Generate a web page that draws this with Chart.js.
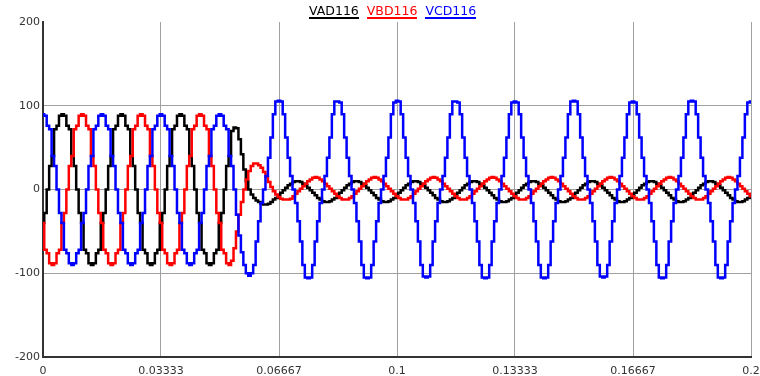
<!DOCTYPE html>
<html>
<head>
<meta charset="utf-8">
<script src="https://cdn.jsdelivr.net/npm/chart.js@4.4.1/dist/chart.umd.min.js"></script>
<style>
  html, body { margin: 0; padding: 0; background: #fff; }
  #wrap { position: relative; width: 760px; height: 376px; }
  #legend { position: absolute; top: 4px; left: 309px; display: flex; gap: 8px;
            font-family: 'DejaVu Sans', sans-serif; font-size: 12.5px; }
  #legend span { display: inline-block; line-height: 13px; padding-bottom: 0; }
</style>
</head>
<body>
<div id="wrap">
  <canvas id="c" width="760" height="376"></canvas>
  <div id="legend"></div>
</div>
<script>
// ---- Data ----
// sampling interval of the plotted record (24 samples per 60 Hz cycle)
const T_STEP = 1 / 1440;

const seriesNames = ['VAD116', 'VBD116', 'VCD116'];
const seriesColors = ['#000000', '#ff0000', '#0000ff'];

const xTickValues = [0, 0.033333, 0.066667, 0.1, 0.133333, 0.166667, 0.2];
const xTickLabels = ['0', '0.03333', '0.06667', '0.1', '0.13333', '0.16667', '0.2'];
const yTickValues = [-200, -100, 0, 100, 200];

// VAD116 (black)
const vad = [
  -40,-28,0,28,40,72,76,88,90,88,76,72,40,28,0,-28,-40,-72,-76,-88,-90,-88,-76,-72,
  -40,-28,0,28,40,72,76,88,90,88,76,72,40,28,0,-28,-40,-72,-76,-88,-90,-88,-76,-72,
  -40,-28,0,28,40,72,76,88,90,88,76,72,40,28,0,-28,-40,-72,-76,-88,-90,-88,-76,-72,
  -40,-28,0,28,40,70,74,73,60,42,24,10,0,-6,-10,-13,-15,-17,-18,-18,-17,-15,-12,-10,
  -7,-4,-1,2,5,7,9,10,10,9,7,5,2,-1,-4,-7,-10,-12,-14,-15,-15,-14,-12,-10,
  -7,-4,-1,2,5,7,9,10,10,9,7,5,2,-1,-4,-7,-10,-12,-14,-15,-15,-14,-12,-10,
  -7,-4,-1,2,5,7,9,10,10,9,7,5,2,-1,-4,-7,-10,-12,-14,-15,-15,-14,-12,-10,
  -7,-4,-1,2,5,7,9,10,10,9,7,5,2,-1,-4,-7,-10,-12,-14,-15,-15,-14,-12,-10,
  -7,-4,-1,2,5,7,9,10,10,9,7,5,2,-1,-4,-7,-10,-12,-14,-15,-15,-14,-12,-10,
  -7,-4,-1,2,5,7,9,10,10,9,7,5,2,-1,-4,-7,-10,-12,-14,-15,-15,-14,-12,-10,
  -7,-4,-1,2,5,7,9,10,10,9,7,5,2,-1,-4,-7,-10,-12,-14,-15,-15,-14,-12,-10,
  -7,-4,-1,2,5,7,9,10,10,9,7,5,2,-1,-4,-7,-10,-12,-14,-15,-15,-14,-12,-10,
  -7
];

// VBD116 (red)
const vbd = [
  -40,-72,-76,-88,-90,-88,-76,-72,-40,-28,0,28,40,72,76,88,90,88,76,72,40,28,0,-28,
  -40,-72,-76,-88,-90,-88,-76,-72,-40,-28,0,28,40,72,76,88,90,88,76,72,40,28,0,-28,
  -40,-72,-76,-88,-90,-88,-76,-72,-40,-28,0,28,40,72,76,88,90,88,76,72,40,28,0,-28,
  -40,-72,-76,-88,-90,-85,-70,-50,-30,-15,0,12,22,28,31,31,29,26,21,15,9,3,-2,-6,
  -9,-11,-12,-12,-12,-11,-8,-5,-2,1,4,7,10,12,14,15,14,12,10,7,4,1,-2,-5,
  -8,-10,-12,-12,-12,-10,-8,-5,-2,1,4,7,10,12,14,15,14,12,10,7,4,1,-2,-5,
  -8,-10,-12,-12,-12,-10,-8,-5,-2,1,4,7,10,12,14,15,14,12,10,7,4,1,-2,-5,
  -8,-10,-12,-12,-12,-10,-8,-5,-2,1,4,7,10,12,14,15,14,12,10,7,4,1,-2,-5,
  -8,-10,-12,-12,-12,-10,-8,-5,-2,1,4,7,10,12,14,15,14,12,10,7,4,1,-2,-5,
  -8,-10,-12,-12,-12,-10,-8,-5,-2,1,4,7,10,12,14,15,14,12,10,7,4,1,-2,-5,
  -8,-10,-12,-12,-12,-10,-8,-5,-2,1,4,7,10,12,14,15,14,12,10,7,4,1,-2,-5,
  -8,-10,-12,-12,-12,-10,-8,-5,-2,1,4,7,10,12,14,15,14,12,10,7,4,1,-2,-5,
  -8
];

// VCD116 (blue)
const vcd = [
  90,88,76,72,40,28,0,-28,-40,-72,-76,-88,-90,-88,-76,-72,-40,-28,0,28,40,72,76,88,
  90,88,76,72,40,28,0,-28,-40,-72,-76,-88,-90,-88,-76,-72,-40,-28,0,28,40,72,76,88,
  90,88,76,72,40,28,0,-28,-40,-72,-76,-88,-90,-88,-76,-72,-40,-28,0,28,40,72,76,88,
  90,88,76,72,40,28,0,-30,-55,-75,-90,-100,-103,-100,-90,-62,-38,-16,0,16,38,62,90,105,
  106,105,90,62,38,16,0,-16,-38,-62,-90,-105,-106,-105,-90,-62,-38,-16,0,16,38,62,90,105,
  105,104,90,62,38,16,0,-16,-38,-62,-90,-105,-106,-105,-90,-62,-38,-16,0,16,38,62,90,104,
  106,105,90,62,38,16,0,-16,-38,-62,-90,-104,-105,-104,-90,-62,-38,-16,0,16,38,62,90,105,
  105,104,90,62,38,16,0,-16,-38,-62,-90,-105,-106,-105,-90,-62,-38,-16,0,16,38,62,90,104,
  105,104,90,62,38,16,0,-16,-38,-62,-90,-105,-106,-105,-90,-62,-38,-16,0,16,38,62,90,105,
  106,105,90,62,38,16,0,-16,-38,-62,-90,-104,-105,-104,-90,-62,-38,-16,0,16,38,62,90,104,
  105,104,90,62,38,16,0,-16,-38,-62,-90,-105,-106,-105,-90,-62,-38,-16,0,16,38,62,90,105,
  106,105,90,62,38,16,0,-16,-38,-62,-90,-105,-106,-105,-90,-62,-38,-16,0,16,38,62,90,104,
  105
];

// ---- Chart ----
const seriesValues = [vad, vbd, vcd];
const drawOrder = [2, 1, 0]; // blue on top
const toPoints = arr => arr.map((v, i) => ({ x: i * T_STEP, y: v }));

const datasets = seriesNames.map((name, k) => ({
  label: name,
  data: toPoints(seriesValues[k]),
  borderColor: seriesColors[k],
  backgroundColor: seriesColors[k],
  borderWidth: 2.5,
  pointRadius: 0,
  stepped: 'middle',
  fill: false,
  order: drawOrder[k]
}));

const tickFont = { family: "'DejaVu Sans', sans-serif", size: 11 };
const gridColor = '#a0a0a0';
const axisColor = '#333333';

new Chart(document.getElementById('c'), {
  type: 'line',
  data: { datasets },
  options: {
    responsive: false,
    animation: false,
    events: [],
    layout: { padding: { top: 22, right: 9, left: 0, bottom: 0 } },
    plugins: { legend: { display: false }, tooltip: { enabled: false } },
    scales: {
      x: {
        type: 'linear',
        min: 0, max: 0.2,
        afterBuildTicks: s => { s.ticks = xTickValues.map(v => ({ value: v })); },
        afterFit: s => { s.height = 19; s.paddingLeft = 0; s.paddingRight = 0; },
        ticks: {
          autoSkip: false, maxRotation: 0, minRotation: 0,
          font: tickFont, color: axisColor, padding: 8,
          callback: (v, i) => xTickLabels[i]
        },
        grid: { color: gridColor, lineWidth: 1, drawTicks: false },
        border: { color: axisColor, width: 2 }
      },
      y: {
        min: -200, max: 200,
        afterBuildTicks: s => { s.ticks = yTickValues.map(v => ({ value: v })); },
        afterFit: s => { s.width = 43; },
        ticks: { font: tickFont, color: axisColor, padding: 3 },
        grid: {
          color: ctx => (ctx.tick && ctx.tick.value === 200) ? 'rgba(0,0,0,0)' : gridColor,
          lineWidth: 1, drawTicks: false
        },
        border: { color: axisColor, width: 2 }
      }
    }
  }
});

// HTML legend built from the series names and colours
const legend = document.getElementById('legend');
seriesNames.forEach((name, k) => {
  const s = document.createElement('span');
  s.textContent = name;
  s.style.color = seriesColors[k];
  s.style.borderBottom = '2.5px solid ' + seriesColors[k];
  legend.appendChild(s);
});
</script>
</body>
</html>
